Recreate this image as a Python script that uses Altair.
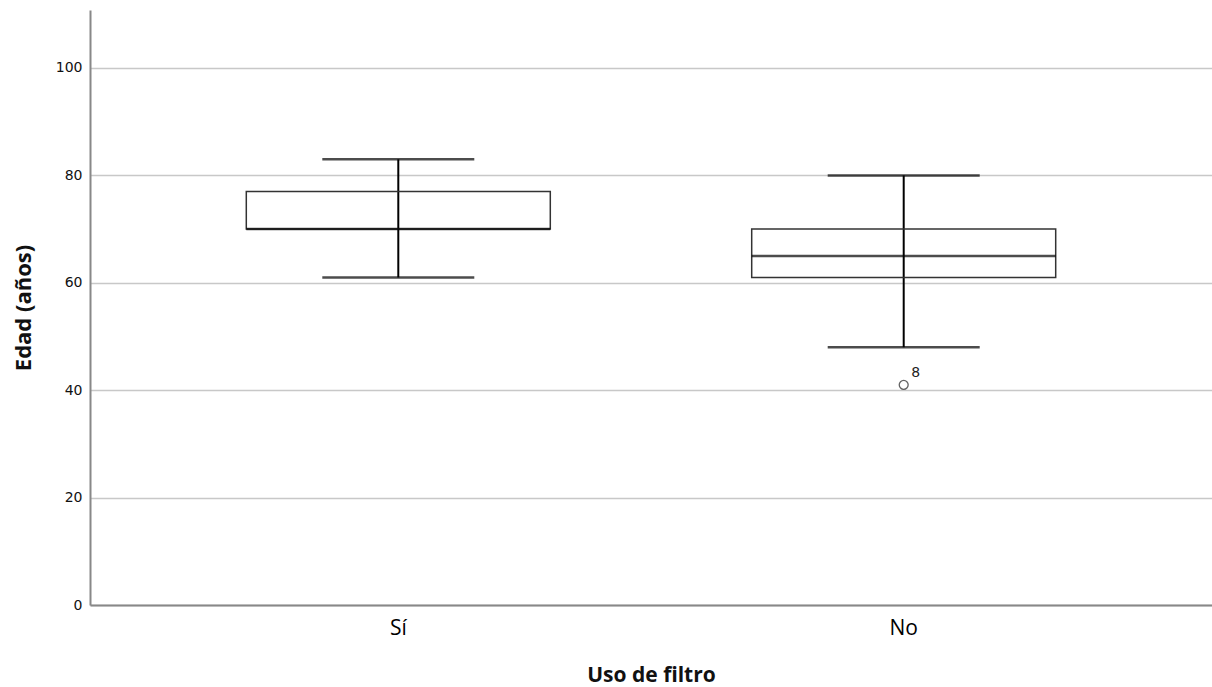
import altair as alt
import pandas as pd

grupos = ["Sí", "No"]
q1 = [70, 61]
mediana = [70, 65]
q3 = [77, 70]
bigote_inf = [61, 48]
bigote_sup = [83, 80]
atip_grupo = ["No"]
atip_valor = [41]
atip_etiqueta = ["8"]

df = pd.DataFrame(dict(grupo=grupos, q1=q1, med=mediana, q3=q3, lo=bigote_inf, hi=bigote_sup))
out = pd.DataFrame(dict(grupo=atip_grupo, v=atip_valor, lab=atip_etiqueta))

xs = alt.Scale(domain=grupos, paddingInner=0, paddingOuter=0.11)
ys = alt.Scale(domain=[0, 110.8], nice=False, zero=True)

xenc = alt.X("grupo:N", scale=xs, sort=grupos,
             axis=alt.Axis(title="Uso de filtro", labelAngle=0, ticks=False,
                           labelFontSize=21, labelFont="Open Sans", labelColor="#000",
                           labelFontWeight=500,
                           labelPadding=12, titleFontSize=21, titleFont="Open Sans",
                           titleFontWeight="bold", titlePadding=26, titleColor="#111",
                           domainColor="#888", domainWidth=2))
yaxis = alt.Axis(title="Edad (años)", values=[0, 20, 40, 60, 80, 100], ticks=False,
                 labelFontSize=14, labelFont="DejaVu Sans", labelColor="#111", labelPadding=8,
                 titleFontSize=22, titleFont="Open Sans", titleFontWeight="bold",
                 titlePadding=20, titleColor="#111", gridColor="#c8c8c8", gridWidth=1.5,
                 domainColor="#888", domainWidth=2)

base = alt.Chart(df)

whisk = base.mark_rule(color="black", strokeWidth=2).encode(
    x=xenc, y=alt.Y("lo:Q", scale=ys, axis=yaxis), y2="hi:Q")
box = base.mark_bar(size=304, fill="white", stroke="#333", strokeWidth=1.5, fillOpacity=0).encode(
    x=xenc, y=alt.Y("q1:Q", scale=ys), y2="q3:Q")
med = base.mark_tick(size=304, thickness=2.5, color="#000").encode(
    x=xenc, y=alt.Y("med:Q", scale=ys))
cap_lo = base.mark_tick(size=152, thickness=2.5, color="#000").encode(
    x=xenc, y=alt.Y("lo:Q", scale=ys))
cap_hi = base.mark_tick(size=152, thickness=2.5, color="#000").encode(
    x=xenc, y=alt.Y("hi:Q", scale=ys))

ochart = alt.Chart(out)
pts = ochart.mark_point(shape="circle", size=80, filled=False, color="#222", strokeWidth=1.3).encode(
    x=xenc, y=alt.Y("v:Q", scale=ys))
lbl = ochart.mark_text(dx=12, dy=-12, fontSize=14, font="DejaVu Sans", color="#222").encode(
    x=xenc, y=alt.Y("v:Q", scale=ys), text="lab:N")

chart = alt.layer(whisk, box, med, cap_lo, cap_hi, pts, lbl).properties(
    width=1122, height=595,
    autosize=alt.AutoSizeParams(type="none"),
    padding={"left": 90, "top": 10, "right": 0, "bottom": 82},
).configure(background="white").configure_view(stroke=None)

chart.save("out.html", embed_options={"renderer": "svg", "actions": False})
